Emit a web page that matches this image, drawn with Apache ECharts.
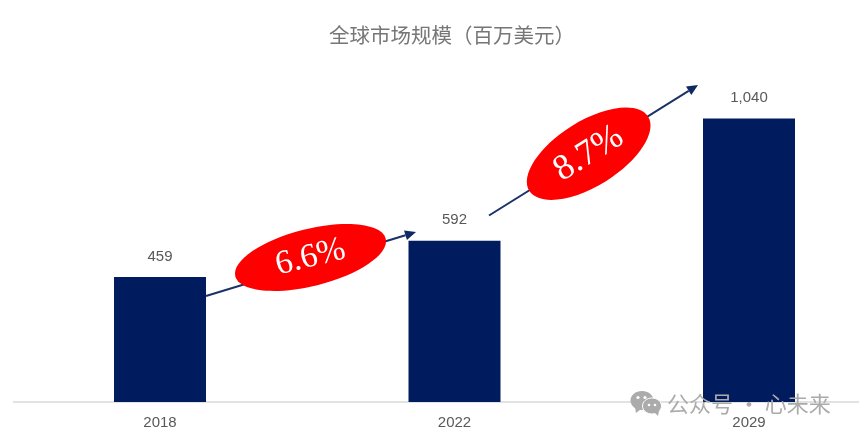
<!DOCTYPE html>
<html><head><meta charset="utf-8">
<style>html,body{margin:0;padding:0;background:#fff}#c{width:859px;height:438px}</style>
<script src="https://cdn.jsdelivr.net/npm/echarts@6/dist/echarts.min.js"></script>
</head><body><div id="c"></div>
<script>
const categories = ['2018', '2022', '2029'];
const values = [459, 592, 1040];
const titleText = '全球市场规模（百万美元）';
const growth = ['6.6%', '8.7%'];
const watermark = '公众号 · 心未来';

const chart = echarts.init(document.getElementById('c'), null, {renderer: 'canvas'});

function arrow(x1, y1, x2, y2) {
  const a = Math.atan2(y2 - y1, x2 - x1), L = 11, W = 5;
  const bx = x2 - L * Math.cos(a), by = y2 - L * Math.sin(a);
  return [
    {type: 'line', z: 10, shape: {x1, y1, x2: bx, y2: by}, style: {stroke: '#1a3268', lineWidth: 2}},
    {type: 'polygon', z: 10, shape: {points: [[x2, y2],
      [bx - W * Math.sin(a), by + W * Math.cos(a)],
      [bx + W * Math.sin(a), by - W * Math.cos(a)]]}, style: {fill: '#0f2a63'}}
  ];
}
function badge(cx, cy, a, b, deg, label, size) {
  return [
    {type: 'ellipse', z: 11, x: cx, y: cy, rotation: deg * Math.PI / 180,
     shape: {cx: 0, cy: 0, rx: a, ry: b}, style: {fill: '#ff0000'}},
    {type: 'text', z: 12, x: cx, y: cy, rotation: deg * Math.PI / 180,
     style: {text: label, fill: '#fff', font: size + 'px "Liberation Serif"', align: 'center', verticalAlign: 'middle'}}
  ];
}
const wm = '#ababab';
const graphics = [
  {type: 'line', z: 1, shape: {x1: 13, y1: 402, x2: 859, y2: 402}, style: {stroke: '#d9d9d9', lineWidth: 1.5}},
  ...arrow(206, 296, 416, 232),
  ...arrow(489, 215.5, 698, 85),
  ...badge(310.5, 257.5, 77.5, 28.5, 14, growth[0], 34),
  ...badge(588.7, 153.7, 70, 32.5, 32, growth[1], 36),
  {type: 'ellipse', z: 20, shape: {cx: 642, cy: 400.5, rx: 11.5, ry: 9.5}, style: {fill: wm}},
  {type: 'polygon', z: 20, shape: {points: [[635, 407], [641, 409], [636, 413]]}, style: {fill: wm}},
  {type: 'ellipse', z: 21, shape: {cx: 652, cy: 406, rx: 9.5, ry: 8}, style: {fill: wm, stroke: '#fff', lineWidth: 1}},
  {type: 'polygon', z: 21, shape: {points: [[654, 412], [659, 411], [658, 416]]}, style: {fill: wm}},
  {type: 'circle', z: 22, shape: {cx: 638, cy: 397.5, r: 1.6}, style: {fill: '#fff'}},
  {type: 'circle', z: 22, shape: {cx: 645, cy: 397.5, r: 1.6}, style: {fill: '#fff'}},
  {type: 'circle', z: 22, shape: {cx: 649, cy: 405, r: 1.3}, style: {fill: '#fff'}},
  {type: 'circle', z: 22, shape: {cx: 655, cy: 405, r: 1.3}, style: {fill: '#fff'}},
  {type: 'text', z: 20, x: 667, y: 404, style: {text: watermark, fill: wm,
    font: '22px "Noto Sans CJK SC"', align: 'left', verticalAlign: 'middle'}}
];

chart.setOption({
  backgroundColor: '#fff',
  animation: false,
  title: {text: titleText, left: 447, top: 20, textAlign: 'center',
    textStyle: {color: '#767676', fontSize: 20.5, fontWeight: 'normal', fontFamily: '"Noto Sans CJK SC"'}},
  grid: {left: 160, width: 589, top: 75, height: 327},
  xAxis: {type: 'category', data: categories, boundaryGap: false,
    axisLine: {show: false},
    axisTick: {show: false},
    axisLabel: {color: '#595959', fontSize: 15, fontFamily: '"Liberation Sans"', margin: 13}},
  yAxis: {type: 'value', min: 0, max: 1200, show: false, splitLine: {show: false}},
  series: [{type: 'bar', data: values, barWidth: 92, clip: false, z: 5,
    itemStyle: {color: '#001c5f'},
    label: {show: true, position: 'top', distance: 13, color: '#595959', fontSize: 15,
      fontFamily: '"Liberation Sans"',
      formatter: p => p.value.toLocaleString('en-US')}}],
  graphic: graphics
});
</script></body></html>
